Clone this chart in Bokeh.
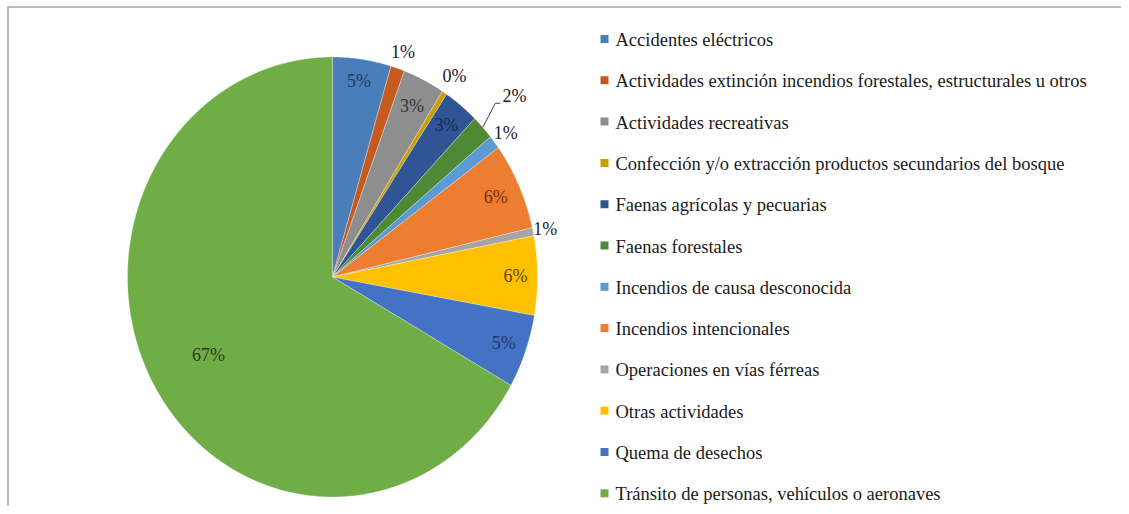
import numpy as np
from bokeh.plotting import figure
from bokeh.models import Range1d, ColumnDataSource
from bokeh.core.properties import value
from bokeh.embed import file_html
from bokeh.resources import INLINE

# ---- data ----
categories = [
    "Accidentes eléctricos",
    "Actividades extinción incendios forestales, estructurales u otros",
    "Actividades recreativas",
    "Confección y/o extracción productos secundarios del bosque",
    "Faenas agrícolas  y pecuarias",
    "Faenas forestales",
    "Incendios de causa desconocida",
    "Incendios intencionales",
    "Operaciones en vías férreas",
    "Otras actividades",
    "Quema de desechos",
    "Tránsito de personas, vehículos o aeronaves",
]
shares = [4.6, 1.1, 3.3, 0.4, 2.8, 1.8, 1.0, 6.4, 0.6, 5.8, 5.4, 66.8]
pct_labels = ["5%", "1%", "3%", "0%", "3%", "2%", "1%", "6%", "1%", "6%", "5%", "67%"]

# ---- style ----
colors = ["#4A7EBB", "#C55A1E", "#8E8E8E", "#C9A000", "#2F5597", "#4E8A35",
          "#5B9BD5", "#ED7D31", "#A5A5A5", "#FFC000", "#4472C4", "#70AD47"]
label_colors = ["#1F3864", "#222222", "#333333", "#222222", "#1A2A50", "#222222",
                "#222222", "#7B2E0B", "#222222", "#5A4000", "#1F3864", "#2E3A22"]
label_rfac = [0.90, 1.08, 0.87, 1.09, 0.885, 1.21, 1.07, 0.875, 1.06, 0.893, 0.888, 0.70]
FONT = "Liberation Serif"

W, H = 1121, 506
cx, cy, rx, ry = 332.0, 276.5, 205.0, 220.0

p = figure(width=W, height=H, output_backend="svg", toolbar_location=None,
           x_range=Range1d(0, W), y_range=Range1d(H, 0),
           min_border=0, outline_line_color=None)
p.axis.visible = False
p.grid.visible = False
p.background_fill_color = "white"
p.border_fill_color = "white"

# frame lines (top and left)
p.line(x=[7.5, 7.5], y=[6, H], line_color="#a6a6a6", line_width=1.5)
p.line(x=[7, W], y=[6.5, 6.5], line_color="#a6a6a6", line_width=1.5)

# ---- pie slices (ellipse) ----
tot = float(sum(shares))
cum = np.concatenate([[0.0], np.cumsum(shares)]) / tot * 2 * np.pi
xs, ys = [], []
for i in range(len(shares)):
    a0, a1 = cum[i], cum[i + 1]
    n = max(3, int(np.degrees(a1 - a0) * 2))
    t = np.linspace(a0, a1, n)
    xs.append([cx] + list(cx + rx * np.sin(t)) + [cx])
    ys.append([cy] + list(cy - ry * np.cos(t)) + [cy])
p.patches(xs=xs, ys=ys, fill_color=colors, line_color="white",
          line_width=0.6, line_alpha=0.5)

# ---- data labels ----
mids = (cum[:-1] + cum[1:]) / 2
lx = cx + rx * np.array(label_rfac) * np.sin(mids)
ly = cy - ry * np.array(label_rfac) * np.cos(mids)
src = ColumnDataSource(dict(x=lx, y=ly, t=pct_labels, c=label_colors))
p.text(x="x", y="y", text="t", text_color="c", source=src,
       text_font=value(FONT), text_font_size="18px",
       text_align="center", text_baseline="middle")

# leader line for the small "Faenas forestales" label
k = 5
x0, y0 = cx + rx * np.sin(mids[k]), cy - ry * np.cos(mids[k])
xe, ye = cx + rx * 1.12 * np.sin(mids[k] - 0.035), cy - ry * 1.12 * np.cos(mids[k] - 0.035)
p.line(x=[x0, xe, lx[k] - 14], y=[y0, ye, ye], line_color="#404040", line_width=1)

# ---- legend ----
leg_y = 39.5 + 41.3 * np.arange(len(categories))
p.rect(x=604, y=leg_y - 1, width=8, height=8, fill_color=colors, line_color=None)
p.text(x=615, y=leg_y, text=categories, text_font=value(FONT),
       text_font_size="18.5px", text_color="#1a1a1a",
       text_align="left", text_baseline="middle")

open("out.html", "w").write(file_html(p, INLINE))
